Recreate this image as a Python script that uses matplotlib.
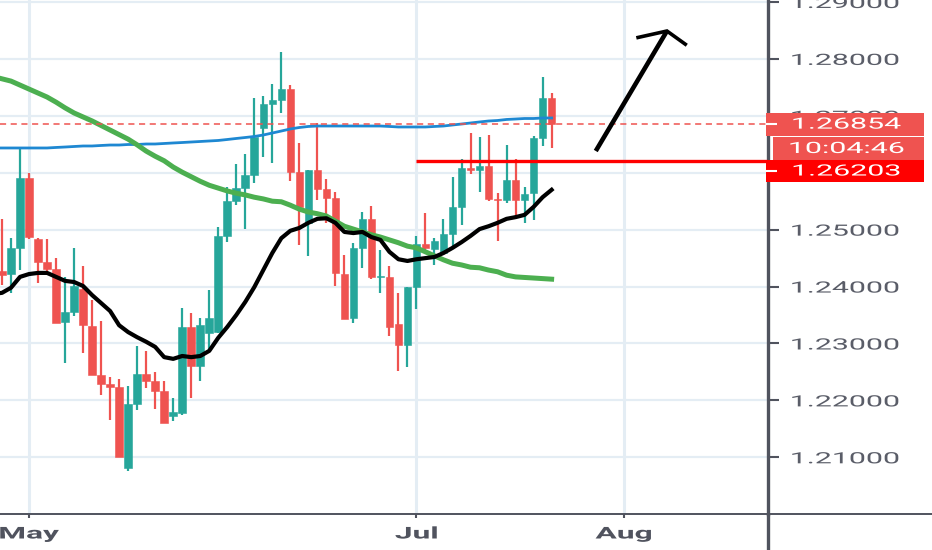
import matplotlib
matplotlib.use('Agg')
import matplotlib.pyplot as plt
from matplotlib.patches import Rectangle
from matplotlib.patheffects import AbstractPathEffect
from matplotlib.transforms import Affine2D

# prices, one value per daily candle
opens = [1.2427,1.2422,1.2468,1.2591,1.2484,1.2443,1.2431,1.2338,1.2355,1.2396,1.2331,1.2245,1.2229,1.2224,1.2081,1.2194,1.2246,1.2234,1.2217,1.2173,1.2178,1.2329,1.2260,1.2318,
	1.2320,1.2489,1.2550,1.2573,1.2596,1.2679,1.2721,1.2728,1.2747,1.2601,1.2512,1.2605,1.2571,1.2556,1.2422,1.2345,1.2468,1.2519,1.2417,1.2417,1.2334,1.2297,1.2399,1.2475,1.2466,1.2459,1.2492,1.2540,1.2608,1.2605,1.2612,1.2554,1.2552,1.2587,1.2552,1.2564,1.2661,1.2731]
highs = [1.2519,1.2485,1.2643,1.2600,1.2485,1.2484,1.2450,1.2417,1.2468,1.2436,1.2376,1.2340,1.2241,1.2238,1.2225,1.2296,1.2287,1.2250,1.2234,1.2204,1.2362,1.2354,1.2345,1.2394,
	1.2505,1.2575,1.2615,1.2633,1.2731,1.2735,1.2756,1.2812,1.2754,1.2652,1.2605,1.2687,1.2589,1.2566,1.2455,1.2477,1.2531,1.2542,1.2464,1.2436,1.2389,1.2399,1.2489,1.2529,1.2485,1.2519,1.2593,1.2624,1.2670,1.2663,1.2666,1.2564,1.2649,1.2624,1.2575,1.2665,1.2768,1.2740]
lows = [1.2403,1.2389,1.2429,1.2484,1.2406,1.2420,1.2336,1.2266,1.2348,1.2283,1.2245,1.2210,1.2166,1.2101,1.2076,1.2183,1.2222,1.2185,1.2160,1.2164,1.2174,1.2204,1.2234,1.2289,
	1.2318,1.2478,1.2543,1.2501,1.2582,1.2628,1.2617,1.2705,1.2586,1.2473,1.2454,1.2552,1.2512,1.2401,1.2343,1.2336,1.2433,1.2413,1.2389,1.2313,1.2252,1.2259,1.2361,1.2463,1.2438,1.2459,1.2468,1.2508,1.2598,1.2566,1.2550,1.2480,1.2547,1.2522,1.2512,1.2517,1.2647,1.2643]
closes = [1.2420,1.2468,1.2591,1.2487,1.2443,1.2431,1.2336,1.2355,1.2401,1.2332,1.2245,1.2229,1.2224,1.2101,1.2194,1.2246,1.2234,1.2217,1.2160,1.2180,1.2329,1.2260,1.2333,1.2345,
	1.2489,1.2550,1.2573,1.2596,1.2663,1.2721,1.2728,1.2747,1.2601,1.2540,1.2605,1.2571,1.2556,1.2424,1.2343,1.2468,1.2519,1.2417,1.2419,1.2329,1.2297,1.2399,1.2475,1.2468,1.2480,1.2492,1.2540,1.2608,1.2605,1.2612,1.2554,1.2552,1.2587,1.2552,1.2563,1.2661,1.2731,1.2686]

# moving averages, first value sits one bar left of the first candle
ma_black = [1.2387,1.2389,1.2398,1.2417,1.2422,1.2424,1.2424,1.2417,1.2410,1.2408,1.2401,1.2385,1.2371,1.2357,1.2332,1.2320,1.2311,1.2303,1.2294,1.2276,1.2273,1.2278,1.2276,1.2278,1.2287,
	1.2310,1.2329,1.2350,1.2373,1.2399,1.2429,1.2459,1.2485,1.2498,1.2503,1.2512,1.2519,1.2520,1.2512,1.2496,1.2494,1.2496,1.2487,1.2482,1.2461,1.2448,1.2445,1.2448,1.2450,1.2452,1.2459,1.2468,1.2478,1.2489,1.2501,1.2506,1.2512,1.2519,1.2522,1.2526,1.2540,1.2557,1.2570]
ma_green = [1.2769,1.2765,1.2761,1.2754,1.2747,1.2740,1.2733,1.2724,1.2714,1.2705,1.2698,1.2691,1.2683,1.2675,1.2667,1.2659,1.2649,1.2638,1.2629,1.2621,1.2610,1.2601,1.2593,1.2585,1.2578,
	1.2573,1.2568,1.2564,1.2561,1.2557,1.2554,1.2550,1.2549,1.2543,1.2536,1.2531,1.2528,1.2524,1.2515,1.2506,1.2501,1.2496,1.2491,1.2487,1.2482,1.2477,1.2471,1.2468,1.2461,1.2454,1.2447,1.2441,1.2438,1.2434,1.2433,1.2429,1.2426,1.2420,1.2417,1.2416,1.2415,1.2414,1.2413]
ma_blue = [1.26435,1.26435,1.26435,1.26435,1.26435,1.26435,1.26435,1.26444,1.26452,1.26461,1.2647,1.2647,1.26479,1.26487,1.26487,1.26496,1.26496,1.26505,1.26505,1.26514,1.26523,1.26531,1.2654,1.26549,1.26558,
	1.26567,1.26584,1.26602,1.26619,1.26637,1.26663,1.26698,1.26733,1.26769,1.26795,1.26813,1.26821,1.26821,1.26821,1.26821,1.26821,1.26821,1.26821,1.26821,1.26813,1.26804,1.26804,1.26804,1.26804,1.26813,1.26821,1.26839,1.26856,1.26874,1.26892,1.26909,1.26918,1.26936,1.26944,1.26953,1.26953,1.26962,1.26962]

price_ticks = [1.21,1.22,1.23,1.24,1.25,1.26,1.27,1.28,1.29]
month_pos = [3,46,69]
month_labels = ['May','Jul','Aug']

last_price = 1.26854
level_price = 1.26203
level_start = 46
countdown = '10:04:46'

# hand drawn arrow on the chart (bar position, price)
arrow_x = [65.9,73.8]
arrow_y = [1.26382,1.2849]
head_x = [70.4,73.8,76.0]
head_y = [1.2837,1.2849,1.2824]

GREEN = '#26a69a'
RED = '#ef5350'
GRID = '#e4edf4'
AXIS = '#50535e'
TEXT = '#5a5d68'
FONT = 'Roboto'
STRETCH = 1.95

# the screenshot was stretched sideways, so the glyphs are too
class StretchX(AbstractPathEffect):
	def __init__(self,sx):
		super().__init__()
		self.sx = sx
	def draw_path(self,renderer,gc,tpath,affine,rgbFace=None):
		ext = tpath.get_extents()
		cx = (ext.x0+ext.x1)/2
		stretch = Affine2D().translate(-cx,0).scale(self.sx,1).translate(cx,0)
		renderer.draw_path(gc,tpath,stretch+affine,rgbFace)

fig = plt.figure(figsize=(9.32,5.5),dpi=100,facecolor='white')
ax = fig.add_axes([0,36/550,767.5/932,514/550])
ax.set_xlim(-0.222,84.96)
ax.set_ylim(1.20004,1.29035)

for t in price_ticks:
	ax.axhline(t,color=GRID,lw=1.6,zorder=0)
for m in month_pos:
	ax.axvline(m,color=GRID,lw=2.2,zorder=0)

for i in range(len(opens)):
	col = GREEN if closes[i]>=opens[i] else RED
	ax.plot([i,i],[lows[i],highs[i]],color=col,lw=1.6,solid_capstyle='butt',zorder=2)
	bottom = min(opens[i],closes[i])
	ax.add_patch(Rectangle((i-0.42,bottom),0.84,abs(closes[i]-opens[i]),facecolor=col,edgecolor=col,lw=0.4,zorder=2))

ma_x = list(range(-1,len(opens)))
ax.plot(ma_x,ma_blue,color='#1e88d2',lw=2.0,zorder=3,solid_capstyle='projecting')
ax.plot(ma_x,ma_green,color='#4caf50',lw=3.6,zorder=3,solid_capstyle='projecting')
ax.plot(ma_x,ma_black,color='black',lw=3.0,zorder=4,solid_capstyle='projecting')

ax.axhline(last_price,color=RED,lw=1.1,ls=(0,(4,3)),zorder=3)
ax.plot([level_start,84.96],[level_price,level_price],color='#ff0000',lw=2.4,solid_capstyle='butt',zorder=4)

ax.plot(arrow_x,arrow_y,color='black',lw=3.3,zorder=5,solid_capstyle='butt')
ax.plot(head_x,head_y,color='black',lw=2.6,zorder=5,solid_joinstyle='miter',solid_capstyle='butt')

ax.set_xticks(month_pos)
ax.set_xticklabels(month_labels,fontsize=11.7,family=FONT,color=AXIS,fontweight='bold')
ax.tick_params(axis='x',length=3,width=1.5,color=AXIS,pad=6)
ax.yaxis.tick_right()
ax.set_yticks(price_ticks)
ax.set_yticklabels(['%.5f'%t for t in price_ticks],fontsize=11.2,family=FONT,color=TEXT)
ax.tick_params(axis='y',length=8,width=1.5,color=AXIS,pad=27.5)
for lab in ax.get_xticklabels()+ax.get_yticklabels():
	lab.set_path_effects([StretchX(STRETCH)])
for s in ['top','left']:
	ax.spines[s].set_visible(False)
ax.spines['right'].set_color(AXIS)
ax.spines['right'].set_linewidth(2.4)
ax.spines['bottom'].set_color(AXIS)
ax.spines['bottom'].set_linewidth(1.4)

# both axis lines run on to the edge of the picture
ax.plot([1,1],[0,-36/514],transform=ax.transAxes,color=AXIS,lw=2.4,clip_on=False,solid_capstyle='butt',zorder=5)
ax.plot([1,932/767.5],[0,0],transform=ax.transAxes,color=AXIS,lw=1.4,clip_on=False,solid_capstyle='butt',zorder=5)

# price tags on the axis strip: x in axes fraction, y in price
tr = ax.get_yaxis_transform()
PX = 1/767.5
tag_h = 0.00404
level_tag_y = 1.26030
timer_y = 1.26426

ax.add_patch(Rectangle((766*PX,last_price-tag_h/2),158*PX,tag_h,transform=tr,facecolor=RED,edgecolor='none',clip_on=False,zorder=6))
ax.add_patch(Rectangle((773*PX,timer_y-tag_h/2),151*PX,tag_h,transform=tr,facecolor=RED,edgecolor='none',clip_on=False,zorder=6))
ax.add_patch(Rectangle((766*PX,level_tag_y-tag_h*0.48),158*PX,tag_h*0.96,transform=tr,facecolor='#ff0000',edgecolor='none',clip_on=False,zorder=7))
for y in [last_price,level_tag_y]:
	ax.plot([766*PX,777*PX],[y,y],transform=tr,color='white',lw=1.5,clip_on=False,zorder=8,solid_capstyle='butt')
for y,txt in [(last_price,'1.26854'),(timer_y,countdown),(level_tag_y,'1.26203')]:
	t = ax.text(846.5*PX,y,txt,transform=tr,ha='center',va='center',fontsize=11.2,family=FONT,color='white',clip_on=False,zorder=9)
	t.set_path_effects([StretchX(STRETCH)])

fig.savefig('out.png',dpi=100)
